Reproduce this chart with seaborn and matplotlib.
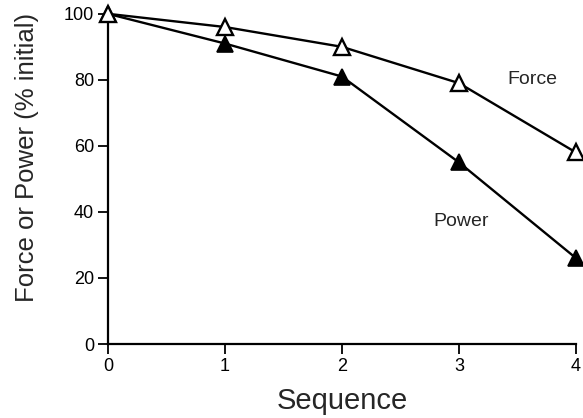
import matplotlib
matplotlib.use("Agg")
import matplotlib.pyplot as plt
import seaborn as sns
import pandas as pd

sequence = [0, 1, 2, 3, 4]
force = [100, 96, 90, 79, 58]
power = [100, 91, 81, 55, 26]
x_ticks = [0, 1, 2, 3, 4]
y_ticks = [0, 20, 40, 60, 80, 100]

sns.set_theme(style="ticks")
plt.rcParams["font.family"] = ["Liberation Sans", "DejaVu Sans"]

fig = plt.figure(figsize=(5.83, 4.18), dpi=100)
ax = fig.add_axes([0.185, 0.177, 0.803, 0.79])

df_force = pd.DataFrame({"Sequence": sequence, "value": force})
df_power = pd.DataFrame({"Sequence": sequence, "value": power})

sns.lineplot(data=df_power, x="Sequence", y="value", ax=ax, color="black",
             linewidth=1.7, marker="^", markersize=11, markerfacecolor="black",
             markeredgecolor="black", markeredgewidth=1.2, clip_on=False, zorder=3)
sns.lineplot(data=df_force, x="Sequence", y="value", ax=ax, color="black",
             linewidth=1.7, marker="^", markersize=11, markerfacecolor="white",
             markeredgecolor="black", markeredgewidth=1.7, clip_on=False, zorder=4)

ax.set_xlim(0, 4)
ax.set_ylim(0, 100)
ax.set_xticks(x_ticks)
ax.set_yticks(y_ticks)
ax.tick_params(axis="both", direction="out", length=7, width=1.3, labelsize=13,
               colors="black", pad=3)
for s in ("left", "bottom"):
    ax.spines[s].set_linewidth(1.6)
    ax.spines[s].set_color("black")
sns.despine(ax=ax)

ax.set_xlabel("Sequence", fontsize=21, labelpad=9)
ax.set_ylabel("Force or Power (% initial)", fontsize=18.5)
ax.yaxis.set_label_coords(-0.148, 0.565)

ax.text(3.63, 80, "Force", fontsize=14, ha="center", va="center")
ax.text(3.02, 37, "Power", fontsize=14, ha="center", va="center")

fig.savefig("out.png", dpi=100)
